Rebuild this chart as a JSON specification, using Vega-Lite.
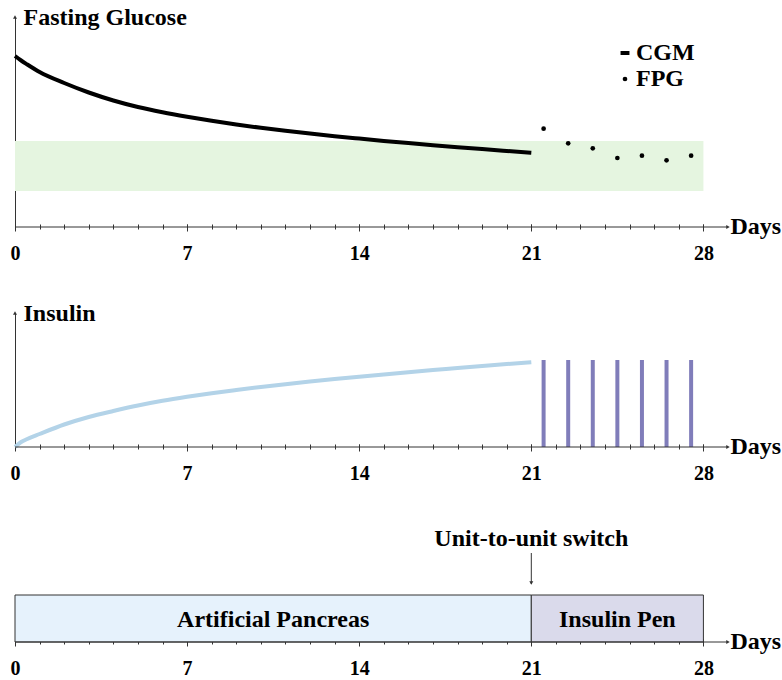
{
  "$schema": "https://vega.github.io/schema/vega-lite/v6.json",
  "padding": {"left": 7, "top": 5, "right": 2, "bottom": 5},
  "background": "white",
  "bounds": "flush",
  "spacing": 86,
  "config": {
    "view": {"stroke": null},
    "font": "Liberation Serif",
    "scale": {"continuousPadding": 0},
    "axisX": {
      "domain": false, "offset": -3, "tickColor": "#333", "tickWidth": 1, "grid": false,
      "labelFont": "Liberation Serif", "labelFontWeight": "bold", "labelFontSize": 20,
      "labelColor": "black", "labelPadding": 12, "labelFlush": false, "labelOverlap": false,
      "titleX": 715, "titleY": 2, "titleAlign": "left", "titleBaseline": "middle",
      "titleAngle": 0, "titleFont": "Liberation Serif", "titleFontWeight": "bold", "titleFontSize": 24,
      "titleColor": "black", "titlePadding": 0
    },
    "axisY": {
      "ticks": false, "labels": false, "grid": false, "domainColor": "#333",
      "titleAngle": 0, "titleX": 8, "titleY": 7,
      "titleAlign": "left", "titleBaseline": "alphabetic",
      "titleFont": "Liberation Serif", "titleFontWeight": "bold", "titleFontSize": 24, "titleColor": "black"
    }
  },
  "datasets": {
    "glucose": [
      {"day": 0, "value": 211}, {"day": 0.25, "value": 206.5}, {"day": 0.5, "value": 202.5},
      {"day": 1, "value": 195}, {"day": 2, "value": 184}, {"day": 3, "value": 174.5},
      {"day": 4, "value": 166.5}, {"day": 5, "value": 160}, {"day": 6, "value": 154.8},
      {"day": 7, "value": 150.3}, {"day": 8, "value": 146.2}, {"day": 9, "value": 142.5},
      {"day": 10, "value": 139.2}, {"day": 11, "value": 136.2}, {"day": 12, "value": 133.4},
      {"day": 13, "value": 130.8}, {"day": 14, "value": 128.4}, {"day": 15, "value": 126.1},
      {"day": 16, "value": 123.9}, {"day": 17, "value": 121.8}, {"day": 18, "value": 119.8},
      {"day": 19, "value": 117.9}, {"day": 20, "value": 116.1}, {"day": 21, "value": 114.3}
    ],
    "fpg": [
      {"day": 21.5, "value": 138.3, "series": "FPG"},
      {"day": 22.5, "value": 123.7, "series": "FPG"},
      {"day": 23.5, "value": 118.7, "series": "FPG"},
      {"day": 24.5, "value": 109, "series": "FPG"},
      {"day": 25.5, "value": 111.3, "series": "FPG"},
      {"day": 26.5, "value": 106.7, "series": "FPG"},
      {"day": 27.5, "value": 111.3, "series": "FPG"}
    ],
    "band": [{"start": 0, "end": 28, "low": 76, "high": 126}],
    "insulin": [
      {"day": 0, "value": 0}, {"day": 0.25, "value": 5}, {"day": 0.5, "value": 8},
      {"day": 1, "value": 13}, {"day": 2, "value": 22.5}, {"day": 3, "value": 30},
      {"day": 4, "value": 36}, {"day": 5, "value": 41.5}, {"day": 6, "value": 46.2},
      {"day": 7, "value": 50.2}, {"day": 8, "value": 53.8}, {"day": 9, "value": 57},
      {"day": 10, "value": 60}, {"day": 11, "value": 62.8}, {"day": 12, "value": 65.4},
      {"day": 13, "value": 67.9}, {"day": 14, "value": 70.3}, {"day": 15, "value": 72.6},
      {"day": 16, "value": 74.8}, {"day": 17, "value": 76.9}, {"day": 18, "value": 78.9},
      {"day": 19, "value": 80.9}, {"day": 20, "value": 82.9}, {"day": 21, "value": 84.8}
    ],
    "doses": [
      {"day": 21.5, "dose": 87}, {"day": 22.5, "dose": 87}, {"day": 23.5, "dose": 87},
      {"day": 24.5, "dose": 87}, {"day": 25.5, "dose": 87}, {"day": 26.5, "dose": 87},
      {"day": 27.5, "dose": 87}
    ],
    "phases": [
      {"phase": "Artificial Pancreas", "start": 0, "end": 21},
      {"phase": "Insulin Pen", "start": 21, "end": 28}
    ],
    "switch": [{"day": 21, "label": "Unit-to-unit switch"}]
  },
  "vconcat": [
    {
      "width": 713,
      "height": 210,
      "resolve": {"axis": {"x": "independent"}},
      "layer": [
        {
          "data": {"name": "band"},
          "mark": {"type": "rect", "color": "#e5f5e0"},
          "encoding": {
            "x": {
              "field": "start", "type": "quantitative",
              "scale": {"domain": [0, 29], "nice": false, "zero": false, "padding": 0},
              "axis": {"orient": "bottom", "title": "Days", "values": [0, 7, 14, 21, 28], "tickSize": 7}
            },
            "x2": {"field": "end"},
            "y": {
              "field": "low", "type": "quantitative",
              "scale": {"domain": [40, 250], "nice": false, "zero": false, "padding": 0},
              "axis": {"title": "Fasting Glucose"}
            },
            "y2": {"field": "high"}
          }
        },
        {
          "data": {"name": "glucose"},
          "mark": {"type": "line", "color": "black", "strokeWidth": 4, "interpolate": "monotone"},
          "encoding": {
            "x": {
              "field": "day", "type": "quantitative",
              "scale": {"domain": [0, 29], "nice": false, "zero": false, "padding": 0},
              "axis": {
                "orient": "bottom", "title": null, "labels": false, "tickSize": 5,
                "values": [0,1,2,3,4,5,6,7,8,9,10,11,12,13,14,15,16,17,18,19,20,21,22,23,24,25,26,27,28]
              }
            },
            "y": {"field": "value", "type": "quantitative"}
          }
        },
        {
          "data": {"name": "fpg"},
          "mark": {"type": "point", "filled": true, "color": "black", "size": 22, "opacity": 1},
          "encoding": {
            "x": {"field": "day", "type": "quantitative", "axis": null},
            "y": {"field": "value", "type": "quantitative"},
            "shape": {
              "field": "series", "type": "nominal",
              "scale": {"domain": ["CGM", "FPG"], "range": ["M-1.9,-0.85H1.9V0.85H-1.9Z", "circle"]},
              "legend": {
                "orient": "none", "legendX": 598, "legendY": 24, "title": null,
                "labelFont": "Liberation Serif", "labelFontWeight": "bold", "labelFontSize": 24,
                "labelColor": "black", "symbolFillColor": "black", "symbolStrokeWidth": 0,
                "symbolOpacity": 1, "symbolSize": 22, "rowPadding": 2, "labelOffset": -1
              }
            }
          }
        },
        {
          "data": {"values": [{"a": 1}]},
          "mark": {"type": "rule", "color": "#333", "strokeWidth": 1},
          "encoding": {"y": {"datum": 40}}
        },
        {
          "data": {"values": [{"a": 1}]},
          "mark": {"type": "point", "shape": "triangle-right", "filled": true, "color": "#333", "size": 16, "opacity": 1},
          "encoding": {"x": {"datum": 29, "axis": null}, "y": {"datum": 40}}
        },
        {
          "data": {"values": [{"a": 1}]},
          "mark": {"type": "point", "shape": "triangle-up", "filled": true, "color": "#333", "size": 16, "opacity": 1},
          "encoding": {"x": {"datum": 0, "axis": null}, "y": {"datum": 250}}
        }
      ]
    },
    {
      "width": 713,
      "height": 134,
      "resolve": {"axis": {"x": "independent"}},
      "layer": [
        {
          "data": {"name": "insulin"},
          "mark": {"type": "line", "color": "#b3d3e8", "strokeWidth": 4, "interpolate": "monotone"},
          "encoding": {
            "x": {
              "field": "day", "type": "quantitative",
              "scale": {"domain": [0, 29], "nice": false, "zero": false, "padding": 0},
              "axis": {"orient": "bottom", "title": "Days", "values": [0, 7, 14, 21, 28], "tickSize": 7}
            },
            "y": {
              "field": "value", "type": "quantitative",
              "scale": {"domain": [0, 134], "nice": false, "zero": false, "padding": 0},
              "axis": {"title": "Insulin"}
            }
          }
        },
        {
          "data": {"name": "doses"},
          "mark": {"type": "bar", "color": "#807dba", "width": 4},
          "encoding": {
            "x": {
              "field": "day", "type": "quantitative",
              "scale": {"domain": [0, 29], "nice": false, "zero": false, "padding": 0},
              "axis": {
                "orient": "bottom", "title": null, "labels": false, "tickSize": 5,
                "values": [0,1,2,3,4,5,6,7,8,9,10,11,12,13,14,15,16,17,18,19,20,21,22,23,24,25,26,27,28]
              }
            },
            "y": {"field": "dose", "type": "quantitative", "scale": {"domain": [0, 134], "nice": false, "zero": false, "padding": 0}}
          }
        },
        {
          "data": {"values": [{"a": 1}]},
          "mark": {"type": "rule", "color": "#333", "strokeWidth": 1},
          "encoding": {"y": {"datum": 0}}
        },
        {
          "data": {"values": [{"a": 1}]},
          "mark": {"type": "point", "shape": "triangle-right", "filled": true, "color": "#333", "size": 16, "opacity": 1},
          "encoding": {"x": {"datum": 29, "axis": null}, "y": {"datum": 0}}
        },
        {
          "data": {"values": [{"a": 1}]},
          "mark": {"type": "point", "shape": "triangle-up", "filled": true, "color": "#333", "size": 16, "opacity": 1},
          "encoding": {"x": {"datum": 0, "axis": null}, "y": {"datum": 134}}
        }
      ]
    },
    {
      "width": 713,
      "height": 109,
      "resolve": {"axis": {"x": "independent"}},
      "layer": [
        {
          "data": {"name": "phases"},
          "mark": {"type": "rect", "stroke": "#333", "strokeWidth": 1},
          "encoding": {
            "x": {
              "field": "start", "type": "quantitative",
              "scale": {"domain": [0, 29], "nice": false, "zero": false, "padding": 0},
              "axis": {"orient": "bottom", "title": "Days", "values": [0, 7, 14, 21, 28], "tickSize": 7}
            },
            "x2": {"field": "end"},
            "y": {"datum": 0, "scale": {"domain": [0, 109], "nice": false, "zero": false, "padding": 0}, "axis": null},
            "y2": {"datum": 47},
            "fill": {
              "field": "phase", "type": "nominal",
              "scale": {"domain": ["Artificial Pancreas", "Insulin Pen"], "range": ["#e6f2fc", "#dadaeb"]},
              "legend": null
            }
          }
        },
        {
          "data": {"name": "phases"},
          "transform": [{"calculate": "(datum.start + datum.end) / 2", "as": "mid"}],
          "mark": {"type": "text", "font": "Liberation Serif", "fontSize": 24, "fontWeight": "bold", "color": "black", "align": "center", "baseline": "middle"},
          "encoding": {
            "x": {
              "field": "mid", "type": "quantitative",
              "scale": {"domain": [0, 29], "nice": false, "zero": false, "padding": 0},
              "axis": {
                "orient": "bottom", "title": null, "labels": false, "tickSize": 5,
                "values": [0,1,2,3,4,5,6,7,8,9,10,11,12,13,14,15,16,17,18,19,20,21,22,23,24,25,26,27,28]
              }
            },
            "y": {"datum": 22.5, "axis": null},
            "text": {"field": "phase", "type": "nominal"}
          }
        },
        {
          "data": {"name": "switch"},
          "mark": {"type": "text", "font": "Liberation Serif", "fontSize": 24, "fontWeight": "bold", "color": "black", "align": "center", "baseline": "alphabetic"},
          "encoding": {
            "x": {"field": "day", "type": "quantitative", "axis": null},
            "y": {"datum": 96, "axis": null},
            "text": {"field": "label", "type": "nominal"}
          }
        },
        {
          "data": {"name": "switch"},
          "mark": {"type": "rule", "color": "#333", "strokeWidth": 1},
          "encoding": {
            "x": {"field": "day", "type": "quantitative", "axis": null},
            "y": {"datum": 89, "axis": null},
            "y2": {"datum": 58}
          }
        },
        {
          "data": {"name": "switch"},
          "mark": {"type": "point", "shape": "triangle-down", "filled": true, "color": "#333", "size": 16, "opacity": 1},
          "encoding": {
            "x": {"field": "day", "type": "quantitative", "axis": null},
            "y": {"datum": 59, "axis": null}
          }
        },
        {
          "data": {"values": [{"a": 1}]},
          "mark": {"type": "rule", "color": "#333", "strokeWidth": 1},
          "encoding": {"y": {"datum": 0, "axis": null}}
        },
        {
          "data": {"values": [{"a": 1}]},
          "mark": {"type": "point", "shape": "triangle-right", "filled": true, "color": "#333", "size": 16, "opacity": 1},
          "encoding": {"x": {"datum": 29, "axis": null}, "y": {"datum": 0, "axis": null}}
        }
      ]
    }
  ]
}
